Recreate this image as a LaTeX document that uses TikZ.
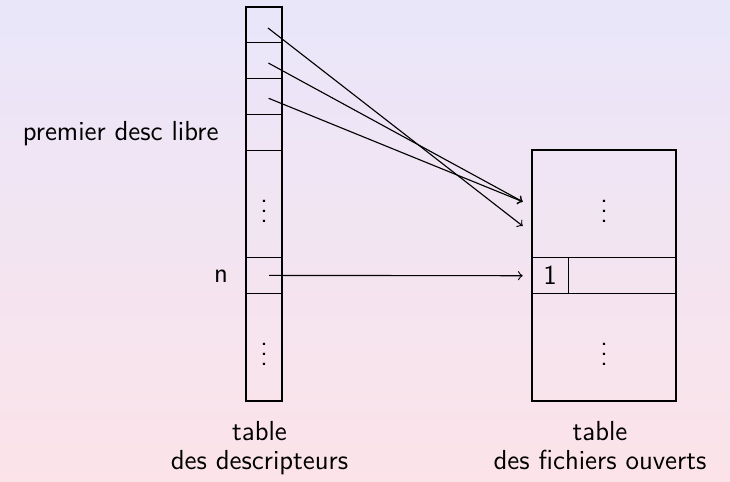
\documentclass[tikz,border=0pt]{standalone}
\usepackage{xcolor}
\usepackage{tikz}
\usetikzlibrary{positioning}
\definecolor{bgtop}{HTML}{E9E6FA}
\definecolor{bgbot}{HTML}{FCE3E9}

\begin{document}
\begin{tikzpicture}[x=0.4pt, y=-0.4pt,
    font=\fontsize{11}{13.6}\selectfont\sffamily,
    cell/.style={draw, line width=0.4pt, minimum width=14.4pt,
        minimum height=#1, inner sep=0pt, outer sep=0pt},
    cell/.default=14.3pt,
    tblframe/.style={draw, line width=0.9pt},
    arr/.style={->, line width=0.45pt, shorten <=2pt},
    lbl/.style={inner sep=0pt},
    caption/.style={inner sep=0pt, align=center, anchor=north,
        font=\fontsize{11}{11.6}\selectfont\sffamily},
  ]
  \fill[top color=bgtop, bottom color=bgbot] (0,0) rectangle (730,481);
  % table des descripteurs
  \node[cell] (c1) at (264,24.9) {};
  \node[cell, below=0pt of c1] (c2) {};
  \node[cell, below=0pt of c2] (c3) {};
  \node[cell, below=0pt of c3] (c4) {};
  \node[cell=43pt, below=0pt of c4] (c5) {$\vdots$};
  \node[cell, below=0pt of c5] (c6) {};
  \node[cell=43pt, below=0pt of c6] (c7) {$\vdots$};
  \draw[tblframe] (c1.north west) rectangle (c7.south east);
  % table des fichiers ouverts
  \node[cell=43pt, minimum width=57.6pt, anchor=north west] (r1) at (532,150.3) {$\vdots$};
  \node[cell, anchor=north west] (r2) at (r1.south west) {1};
  \node[cell, minimum width=43.2pt, anchor=north west] (r3) at (r2.north east) {};
  \node[cell=43pt, minimum width=57.6pt, anchor=north west] (r4) at (r2.south west) {$\vdots$};
  \draw[tblframe] (r1.north west) rectangle (r4.south east);
  % pointeurs
  \coordinate (p1) at (522.7,201.7);
  \coordinate (p2) at (522.7,226);
  \coordinate (p3) at (522.7,275.7);
  \draw[arr] (c1.center) -- (p2);
  \draw[arr] (c2.center) -- (p1);
  \draw[arr] (c3.center) -- (p1);
  \draw[arr] (c6.center) -- (p3);
  % etiquettes
  \node[lbl, anchor=east] (libre) at (219,134) {premier desc libre};
  \node[lbl] (n) at (221,276) {n};
  \node[caption] (ldesc) at (259.5,421) {table\\des descripteurs};
  \node[caption] (lfich) at (600,421) {table\\des fichiers ouverts};
\end{tikzpicture}
\end{document}
